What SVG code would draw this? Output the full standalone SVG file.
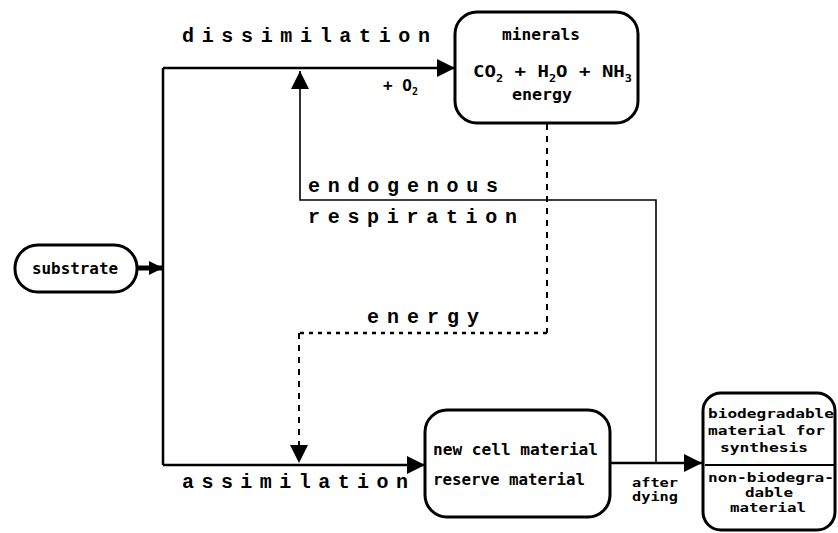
<svg xmlns="http://www.w3.org/2000/svg" width="838" height="533" viewBox="0 0 838 533">
<style>
.box{fill:#fff;stroke:#000;stroke-width:3}
.ln{fill:none;stroke:#000;stroke-width:2.5}
.thin{fill:none;stroke:#000;stroke-width:1.6}
.dash{fill:none;stroke:#000;stroke-width:2;stroke-dasharray:6 6}
.dot{fill:none;stroke:#000;stroke-width:2.5;stroke-dasharray:4 5}
.lbl{font-family:"Liberation Mono","DejaVu Sans Mono",monospace;font-size:20px;font-weight:bold;fill:#000}
.bt{font-family:"DejaVu Sans Mono","Liberation Mono",monospace;font-size:16px;font-weight:bold;fill:#000}
.sm{font-size:13px}
.sub{font-size:10px}
</style>
<defs>
<marker id="ah" viewBox="0 0 10 10" refX="10" refY="5" markerWidth="14" markerHeight="14" markerUnits="userSpaceOnUse" orient="auto">
<path d="M0,0 L10,5 L0,10 Z" fill="#000"/>
</marker>
<marker id="ahb" viewBox="0 0 10 10" refX="10" refY="5" markerWidth="18" markerHeight="18" markerUnits="userSpaceOnUse" orient="auto">
<path d="M0,0 L10,5 L0,10 Z" fill="#000"/>
</marker>
</defs>

<g id="connectors">
<polyline class="ln" points="163,68 163,465"/>
<line class="ln" x1="163" y1="68" x2="455" y2="68" marker-end="url(#ahb)"/>
<line class="ln" x1="163" y1="465" x2="425" y2="465" marker-end="url(#ahb)"/>
<line x1="137" y1="268" x2="163" y2="268" stroke="#000" stroke-width="5" marker-end="url(#ah)"/>
<polyline class="thin" points="656,463 656,200 300,200 300,71" marker-end="url(#ahb)"/>
<polyline class="dash" points="547,124 547,333"/>
<polyline class="dot" points="547,333 299,333"/>
<polyline class="dash" points="299,333 299,463" marker-end="url(#ahb)"/>
<line class="ln" x1="610" y1="463" x2="702" y2="463" marker-end="url(#ahb)"/>
</g>

<g id="labels">
<text class="lbl" x="182" y="42" textLength="248" lengthAdjust="spacing">dissimilation</text>
<text class="bt" x="383" y="91" font-size="15">+ O<tspan class="sub" dy="4">2</tspan></text>
<text class="lbl" x="308" y="192" textLength="190" lengthAdjust="spacing">endogenous</text>
<text class="lbl" x="308" y="223" textLength="209" lengthAdjust="spacing">respiration</text>
<text class="lbl" x="367" y="323" textLength="112" lengthAdjust="spacing">energy</text>
<text class="lbl" x="182" y="488" textLength="226" lengthAdjust="spacing">assimilation</text>
<text class="bt sm" x="632" y="487" textLength="46" lengthAdjust="spacingAndGlyphs">after</text>
<text class="bt sm" x="632" y="501" textLength="46" lengthAdjust="spacingAndGlyphs">dying</text>
</g>

<g id="substrate">
<rect class="box" x="15" y="245" width="122" height="47" rx="23"/>
<text class="bt" x="32" y="274" textLength="86" lengthAdjust="spacingAndGlyphs">substrate</text>
</g>

<g id="minerals">
<rect class="box" x="455" y="12" width="183" height="111" rx="22"/>
<text class="bt" x="502" y="40" textLength="78" lengthAdjust="spacingAndGlyphs">minerals</text>
<text class="bt" x="473" y="77" textLength="159" lengthAdjust="spacingAndGlyphs">CO<tspan class="sub" dy="5">2</tspan><tspan dy="-5">  + H</tspan><tspan class="sub" dy="5">2</tspan><tspan dy="-5">O + NH</tspan><tspan class="sub" dy="5">3</tspan></text>
<text class="bt" x="512" y="100" textLength="60" lengthAdjust="spacingAndGlyphs">energy</text>
</g>

<g id="cell">
<rect class="box" x="425" y="410" width="185" height="107" rx="22"/>
<text class="bt" x="433" y="455" textLength="165" lengthAdjust="spacingAndGlyphs">new cell material</text>
<text class="bt" x="433" y="485" textLength="152" lengthAdjust="spacingAndGlyphs">reserve material</text>
</g>

<g id="products">
<rect class="box" x="703" y="393" width="132" height="137" rx="18"/>
<line x1="705" y1="465" x2="835" y2="465" stroke="#000" stroke-width="2"/>
<text class="bt sm" x="708" y="418" textLength="126" lengthAdjust="spacingAndGlyphs">biodegradable</text>
<text class="bt sm" x="708" y="435" textLength="117" lengthAdjust="spacingAndGlyphs">material for</text>
<text class="bt sm" x="720" y="452" textLength="88" lengthAdjust="spacingAndGlyphs">synthesis</text>
<text class="bt sm" x="708" y="482" textLength="126" lengthAdjust="spacingAndGlyphs">non-biodegra-</text>
<text class="bt sm" x="745" y="497" textLength="48" lengthAdjust="spacingAndGlyphs">dable</text>
<text class="bt sm" x="730" y="512" textLength="76" lengthAdjust="spacingAndGlyphs">material</text>
</g>
</svg>
